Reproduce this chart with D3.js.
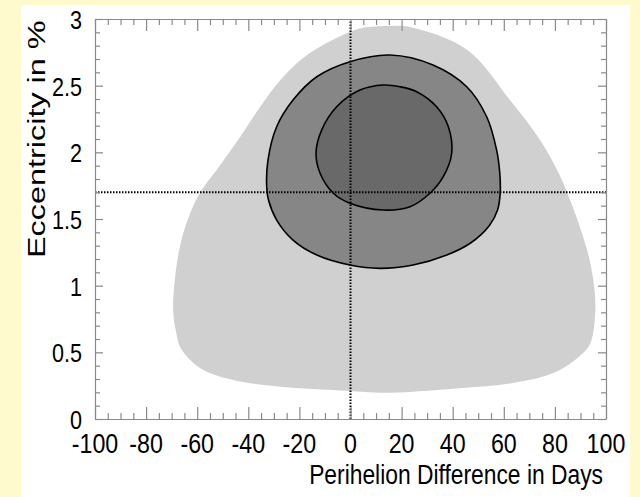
<!DOCTYPE html>
<html>
<head>
<meta charset="utf-8">
<script src="https://cdn.jsdelivr.net/npm/d3@7"></script>
<style>
  html, body { margin: 0; padding: 0; background: #fffacd; }
  svg { display: block; }
  text { font-family: "Liberation Sans", Arial, Helvetica, sans-serif; fill: #000; }
</style>
</head>
<body>
<svg id="chart" width="640" height="497"></svg>
<script>
// Axis ranges and tick labels
const xDomain = [-100, 100];
const yDomain = [0, 3];
const xTickLabels = [-100, -80, -60, -40, -20, 0, 20, 40, 60, 80, 100];
const yTickLabels = [0, 0.5, 1, 1.5, 2, 2.5, 3];

// Reference values (dotted cross-hair)
const refPerihelion = 0;
const refEccentricity = 1.7;

// Outer (widest) allowed region: [perihelion difference in days, eccentricity in %]
const outerRegion = [
  [15.5, 2.948], [23.3, 2.94], [45.6, 2.77], [62.4, 2.393], [74.2, 2.093],
  [81.6, 1.84], [85.6, 1.66], [89.6, 1.45], [93.5, 1.2], [95.6, 0.95],
  [95.7, 0.765], [93.7, 0.56], [89.0, 0.46], [79.3, 0.345], [63.6, 0.27],
  [44.0, 0.232], [24.5, 0.205], [11.5, 0.197], [-6.8, 0.217], [-26.4, 0.24],
  [-46.0, 0.292], [-58.9, 0.382], [-66.4, 0.53], [-68.2, 0.645], [-69.4, 0.817],
  [-68.3, 1.12], [-65.8, 1.37], [-62.8, 1.54], [-58.8, 1.7], [-52.4, 1.867],
  [-43.2, 2.115], [-35.4, 2.34], [-26.4, 2.565], [-15.9, 2.745], [0, 2.905], [6.3, 2.938]
];

// Middle contour
const middleRegion = [
  [15.5, 2.73], [32.3, 2.655], [45.5, 2.492], [53.3, 2.267], [57.2, 2.017],
  [58.4, 1.85], [58.6, 1.70], [57.6, 1.57], [54.3, 1.45], [47.0, 1.32],
  [37.7, 1.23], [24.5, 1.155], [11.5, 1.13], [-0.2, 1.155], [-13.2, 1.23],
  [-22.5, 1.342], [-28.9, 1.492], [-32.1, 1.642], [-32.8, 1.742], [-32.3, 1.942],
  [-28.9, 2.192], [-22.5, 2.392], [-13.2, 2.567], [-0.2, 2.68]
];

// Inner contour
const innerRegion = [
  [12.8, 2.505], [19.4, 2.492], [25.9, 2.455], [33.7, 2.342], [38.3, 2.192],
  [39.6, 1.993], [36.3, 1.817], [31.1, 1.693], [23.3, 1.592], [12.8, 1.567],
  [-0.2, 1.618], [-6.7, 1.693], [-11.9, 1.843], [-13.5, 1.993], [-11.3, 2.167],
  [-5.4, 2.342], [3.7, 2.467]
];

const svg = d3.select("#chart");
const plot = { left: 95, right: 606, top: 19, bottom: 419 };

const x = d3.scaleLinear().domain(xDomain).range([plot.left, plot.right]);
const y = d3.scaleLinear().domain(yDomain).range([plot.bottom, plot.top]);

// White canvas panel
svg.append("rect").attr("x", 21).attr("y", 5).attr("width", 609).attr("height", 492)
  .attr("fill", "#ffffff");

// Contour regions
const area = d3.line().x(d => x(d[0])).y(d => y(d[1]))
  .curve(d3.curveCatmullRomClosed.alpha(0.5));

svg.append("path").attr("d", area(outerRegion))
  .attr("fill", "#d0d0d0").attr("stroke", "none");
svg.append("path").attr("d", area(middleRegion))
  .attr("fill", "#868686").attr("stroke", "#000").attr("stroke-width", 1.6);
svg.append("path").attr("d", area(innerRegion))
  .attr("fill", "#696969").attr("stroke", "#000").attr("stroke-width", 1.6);

// Dotted reference lines
svg.append("line")
  .attr("x1", x(xDomain[0])).attr("x2", x(xDomain[1]))
  .attr("y1", y(refEccentricity)).attr("y2", y(refEccentricity))
  .attr("stroke", "#000").attr("stroke-width", 2).attr("stroke-dasharray", "1.5,1.5");
svg.append("line")
  .attr("x1", x(refPerihelion)).attr("x2", x(refPerihelion))
  .attr("y1", y(yDomain[0])).attr("y2", y(yDomain[1]))
  .attr("stroke", "#000").attr("stroke-width", 2).attr("stroke-dasharray", "1.5,1.5");

// Frame with inward ticks on all four sides
const frameColor = "#8a8a8a";
const axisBottom = d3.axisBottom(x).tickValues(d3.range(-100, 100.1, 5))
  .tickSizeInner(-6).tickSizeOuter(0).tickFormat("");
const axisTop = d3.axisTop(x).tickValues(d3.range(-100, 100.1, 5))
  .tickSizeInner(-6).tickSizeOuter(0).tickFormat("");
const axisLeft = d3.axisLeft(y).tickValues(d3.range(0, 3.001, 0.1))
  .tickSizeInner(-5).tickSizeOuter(0).tickFormat("");
const axisRight = d3.axisRight(y).tickValues(d3.range(0, 3.001, 0.1))
  .tickSizeInner(-5).tickSizeOuter(0).tickFormat("");

function styleAxis(g, majorFn, majorLen, dir) {
  g.select(".domain").attr("stroke", frameColor).attr("stroke-width", 1.2);
  g.selectAll(".tick line").attr("stroke", frameColor).attr("stroke-width", 1.2)
    .each(function(d) {
      if (majorFn(d)) {
        const el = d3.select(this);
        if (dir === "x2") el.attr("x2", majorLen); else el.attr("y2", majorLen);
      }
    });
}
const isMajorX = d => Math.abs(d / 20 - Math.round(d / 20)) < 1e-6;
const isMajorY = d => Math.abs(d / 0.5 - Math.round(d / 0.5)) < 1e-6;

svg.append("g").attr("transform", `translate(0,${plot.bottom})`).call(axisBottom)
  .call(g => styleAxis(g, isMajorX, -12, "y2"));
svg.append("g").attr("transform", `translate(0,${plot.top})`).call(axisTop)
  .call(g => styleAxis(g, isMajorX, 12, "y2"));
svg.append("g").attr("transform", `translate(${plot.left},0)`).call(axisLeft)
  .call(g => styleAxis(g, isMajorY, 8, "x2"));
svg.append("g").attr("transform", `translate(${plot.right},0)`).call(axisRight)
  .call(g => styleAxis(g, isMajorY, -8, "x2"));

// Tick labels (condensed Helvetica look)
const squeeze = 0.83;
svg.append("g").selectAll("g").data(xTickLabels).join("g")
  .attr("transform", d => `translate(${x(d)},453) scale(${squeeze},1)`)
  .append("text").attr("text-anchor", "middle").attr("font-size", 28)
  .text(d => d);

svg.append("g").selectAll("g").data(yTickLabels).join("g")
  .attr("transform", d => `translate(82,${y(d) + 10}) scale(${squeeze},1)`)
  .append("text").attr("text-anchor", "end").attr("font-size", 26)
  .text(d => d);

// Axis titles
svg.append("g").attr("transform", `translate(603,484) scale(${squeeze},1)`)
  .append("text").attr("text-anchor", "end").attr("font-size", 27.5)
  .text("Perihelion Difference in Days");

svg.append("g").attr("transform", "translate(45,258) rotate(-90) scale(1.35,1)")
  .append("text").attr("text-anchor", "start").attr("font-size", 24)
  .text("Eccentricity in  %");
</script>
</body>
</html>
